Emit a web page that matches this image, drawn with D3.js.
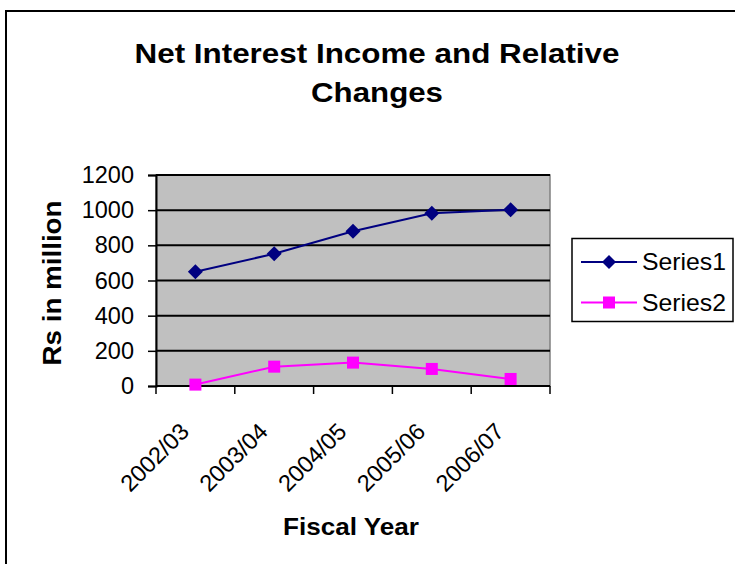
<!DOCTYPE html>
<html>
<head>
<meta charset="utf-8">
<script src="https://cdn.jsdelivr.net/npm/d3@7"></script>
<style>
  html, body { margin: 0; padding: 0; background: #fff; }
  svg { display: block; font-family: Arial, "Liberation Sans", sans-serif; }
</style>
</head>
<body>
<svg id="chart" width="735" height="564"></svg>
<script>
// Fiscal years on the category axis
const years = ["2002/03", "2003/04", "2004/05", "2005/06", "2006/07"];
// Net interest income (Rs in million)
const series1 = [650, 752, 880, 983, 1002];
// Relative change between years
const series2 = [8, 110, 133, 97, 40];
const seriesNames = ["Series1", "Series2"];
const yTicks = [0, 200, 400, 600, 800, 1000, 1200];

const svg = d3.select("#chart");
const plot = { left: 156, right: 550, top: 175, bottom: 386 };

// Outer chart frame
svg.append("rect")
  .attr("x", 6).attr("y", 11).attr("width", 740).attr("height", 570)
  .attr("fill", "#fff").attr("stroke", "#000").attr("stroke-width", 2);

const x = d3.scaleBand().domain(years).range([plot.left, plot.right]).padding(0);
const y = d3.scaleLinear().domain([0, 1200]).range([plot.bottom, plot.top]);
const cx = d => x(d) + x.bandwidth() / 2;

// Plot area background
svg.append("rect")
  .attr("x", plot.left).attr("y", plot.top)
  .attr("width", plot.right - plot.left).attr("height", plot.bottom - plot.top)
  .attr("fill", "#c0c0c0").attr("stroke", "#808080").attr("stroke-width", 1.5);

// Horizontal gridlines
svg.append("g").selectAll("line").data(yTicks.filter(v => v > 0)).join("line")
  .attr("x1", plot.left).attr("x2", plot.right)
  .attr("y1", d => y(d)).attr("y2", d => y(d))
  .attr("stroke", "#000").attr("stroke-width", 2);

// Y axis
const yAxis = svg.append("g")
  .attr("transform", `translate(${plot.left},0)`)
  .call(d3.axisLeft(y).tickValues(yTicks).tickSize(8).tickPadding(14).tickFormat(d3.format("d")));
yAxis.select(".domain").attr("stroke", "#000").attr("stroke-width", 2);
yAxis.selectAll(".tick line").attr("stroke", "#000").attr("stroke-width", 1.5);
yAxis.selectAll(".tick text").attr("font-size", 23.5).attr("fill", "#000")
  .attr("font-family", "Arial, 'Liberation Sans', sans-serif");

// X axis: ticks at category boundaries
const bounds = years.map(d => x(d)).concat([plot.right]);
const xg = svg.append("g");
xg.append("line")
  .attr("x1", plot.left).attr("x2", plot.right)
  .attr("y1", plot.bottom).attr("y2", plot.bottom)
  .attr("stroke", "#000").attr("stroke-width", 2);
xg.selectAll("line.tk").data(bounds).join("line").attr("class", "tk")
  .attr("x1", d => d).attr("x2", d => d)
  .attr("y1", plot.bottom).attr("y2", plot.bottom + 8)
  .attr("stroke", "#000").attr("stroke-width", 1.5);
xg.selectAll("text").data(years).join("text")
  .attr("transform", d => `translate(${cx(d) - 5},${plot.bottom + 47}) rotate(-45)`)
  .attr("text-anchor", "end")
  .attr("font-size", 23.5).attr("fill", "#000")
  .text(d => d);

// Lines and markers
const line = d3.line().x((d, i) => cx(years[i])).y(d => y(d));
const colors = ["#000080", "#ff00ff"];

svg.append("path").datum(series1).attr("d", line)
  .attr("fill", "none").attr("stroke", colors[0]).attr("stroke-width", 2);
svg.append("path").datum(series2).attr("d", line)
  .attr("fill", "none").attr("stroke", colors[1]).attr("stroke-width", 2);

const diamond = (px, py, r) => `M${px},${py - r}L${px + r},${py}L${px},${py + r}L${px - r},${py}Z`;
svg.append("g").selectAll("path").data(series1).join("path")
  .attr("d", (d, i) => diamond(cx(years[i]), y(d), 7.5))
  .attr("fill", colors[0]);
svg.append("g").selectAll("rect").data(series2).join("rect")
  .attr("x", (d, i) => cx(years[i]) - 6).attr("y", d => y(d) - 6)
  .attr("width", 12).attr("height", 12)
  .attr("fill", colors[1]);

// Title
const title = svg.append("text").attr("text-anchor", "middle")
  .attr("font-weight", "bold").attr("font-size", 27).attr("fill", "#000");
title.append("tspan").attr("x", 377).attr("y", 63)
  .attr("textLength", 485).attr("lengthAdjust", "spacingAndGlyphs")
  .text("Net Interest Income and Relative");
title.append("tspan").attr("x", 377).attr("y", 102)
  .attr("textLength", 132).attr("lengthAdjust", "spacingAndGlyphs")
  .text("Changes");

// Axis titles
svg.append("text")
  .attr("transform", "translate(61,283) rotate(-90)")
  .attr("text-anchor", "middle").attr("font-weight", "bold").attr("font-size", 25)
  .attr("textLength", 165).attr("lengthAdjust", "spacingAndGlyphs")
  .attr("fill", "#000").text("Rs in million");
svg.append("text")
  .attr("x", 351).attr("y", 535).attr("text-anchor", "middle")
  .attr("font-weight", "bold").attr("font-size", 24)
  .attr("textLength", 136).attr("lengthAdjust", "spacingAndGlyphs")
  .attr("fill", "#000").text("Fiscal Year");

// Legend
const lg = svg.append("g");
lg.append("rect").attr("x", 572).attr("y", 238.5).attr("width", 161).attr("height", 83)
  .attr("fill", "#fff").attr("stroke", "#000").attr("stroke-width", 1.5);
const ly = [262, 302.5];
seriesNames.forEach((name, i) => {
  lg.append("line").attr("x1", 581).attr("x2", 637).attr("y1", ly[i]).attr("y2", ly[i])
    .attr("stroke", colors[i]).attr("stroke-width", 2);
  if (i === 0) {
    lg.append("path").attr("d", diamond(609, ly[i], 7)).attr("fill", colors[i]);
  } else {
    lg.append("rect").attr("x", 603).attr("y", ly[i] - 6).attr("width", 12).attr("height", 12)
      .attr("fill", colors[i]);
  }
  lg.append("text").attr("x", 642).attr("y", ly[i] + 8)
    .attr("font-size", 24).attr("fill", "#000")
    .attr("textLength", 84).attr("lengthAdjust", "spacingAndGlyphs")
    .text(name);
});
</script>
</body>
</html>
